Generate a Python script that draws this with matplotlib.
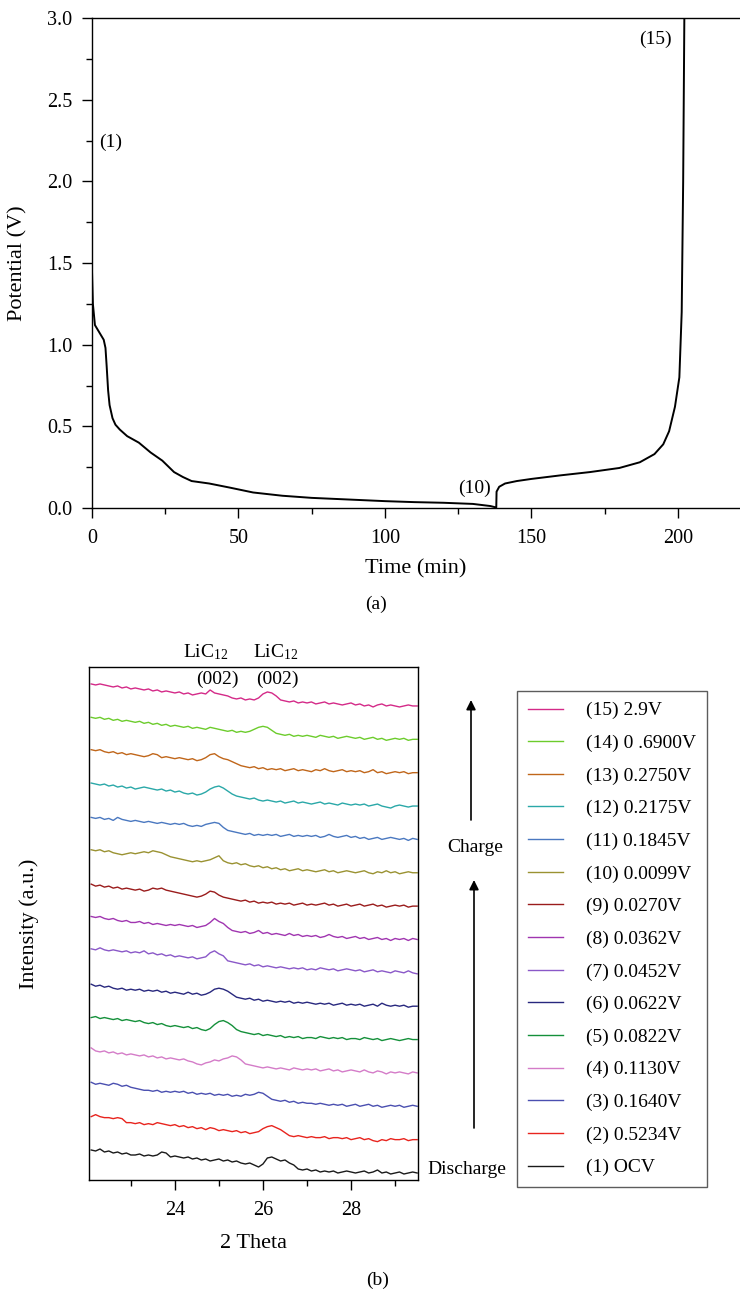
import numpy as np
import matplotlib
matplotlib.use("Agg")
import matplotlib.pyplot as plt
from matplotlib.ticker import MultipleLocator

plt.rcParams['font.family'] = ['Liberation Serif', 'DejaVu Serif']
plt.rcParams['mathtext.fontset'] = 'custom'
plt.rcParams['mathtext.rm'] = 'Liberation Serif'
plt.rcParams['mathtext.it'] = 'Liberation Serif:italic'
FS = 14
FS_TICK = 14.5
FS_LAB = 16

# ---------------- (a) discharge / charge curve ----------------
time_min = [0, 0.3, 1.0, 2.0, 3.0, 4.0, 4.6, 5.0, 5.5, 6.0, 7.0, 8.0, 9.5, 12, 16,
            20, 24, 28, 31, 34, 40, 47, 55, 65, 75, 90, 100, 110, 120, 130, 136,
            138, 138.1, 139, 141, 145, 150, 160, 170, 180, 187, 192, 195, 197,
            199, 200.5, 201.3, 201.8, 202.2]
potential_v = [1.45, 1.25, 1.12, 1.09, 1.06, 1.03, 0.98, 0.87, 0.72, 0.63, 0.55,
               0.51, 0.48, 0.44, 0.40, 0.34, 0.29, 0.22, 0.19, 0.165, 0.15, 0.125,
               0.095, 0.075, 0.062, 0.05, 0.042, 0.036, 0.032, 0.025, 0.012,
               0.003, 0.10, 0.13, 0.15, 0.165, 0.178, 0.20, 0.22, 0.245, 0.28,
               0.33, 0.39, 0.47, 0.62, 0.80, 1.2, 2.0, 3.0]
point_labels = ['(1)', '(10)', '(15)']
point_time = [6.3, 130.4, 192.3]
point_pot = [2.24, 0.12, 2.87]

# ---------------- (b) XRD patterns ----------------
two_theta = np.round(np.arange(22.1, 29.55, 0.1), 2)  # 75 points

xrd_1 = [23,22,24,21,22,20,21,19,20,18, 18,19,17,18,17,18,21,20,16,17,
         16,15,16,14,15,13,14,12,13,14, 12,13,11,12,10,9,10,8,6,9,
         15,16,14,12,13,10,8,4,3,4, 2,3,1,2,1,2,0,1,2,1,
         0,1,2,0,1,3,0,1,-1,0, 1,-1,0,1,0]
xrd_2 = [23,25,23,22,22,21,22,21,17,17, 16,17,15,16,15,17,16,15,14,15,
         13,14,12,13,11,12,10,12,11,9, 10,9,8,9,7,8,6,7,8,11,
         13,14,12,10,7,4,3,4,3,2, 3,2,2,3,1,2,2,1,2,0,
         1,2,0,1,-1,-2,0,-1,1,0, 0,1,-1,0,0]
xrd_3 = [24,22,23,22,21,23,22,20,21,19, 18,17,16,16,15,16,14,15,14,15,
         14,15,13,14,12,13,12,13,11,12, 11,12,10,11,10,12,11,12,14,13,
         10,7,6,5,6,4,5,3,4,3, 3,2,3,2,1,2,1,2,0,1,
         2,0,1,2,0,1,-1,0,1,0, 1,-1,0,1,0]
xrd_4 = [25,22,21,22,20,21,19,20,18,19, 18,17,18,16,17,15,16,14,15,14,
         13,14,12,11,9,8,10,11,13,12, 14,15,17,16,13,9,8,7,6,5,
         6,5,4,5,4,3,5,4,3,4, 3,4,2,3,4,2,3,1,2,3,
         2,1,3,1,0,2,1,-1,1,0, 1,0,-1,1,0]
xrd_5 = [22,23,21,22,21,20,21,19,20,19, 18,19,17,16,17,15,16,14,13,14,
         13,12,13,11,12,10,9,11,15,18, 19,17,14,10,8,7,6,5,6,4,
         5,4,3,4,2,3,2,3,1,2, 2,1,3,2,1,2,1,2,0,1,
         1,0,2,1,0,1,-1,0,1,0, -1,0,1,0,0]
xrd_6 = [22,20,21,19,20,18,17,18,16,17, 16,17,15,16,15,16,14,15,13,14,
         13,12,14,12,13,11,12,14,17,18, 17,15,12,9,8,7,8,6,7,5,
         6,5,4,5,4,5,3,4,3,4, 3,2,3,2,3,1,2,3,1,2,
         1,2,0,1,2,0,3,1,0,1, 0,1,-1,0,0]
xrd_7 = [24,23,25,23,22,23,22,21,22,20, 21,20,22,19,20,18,19,17,18,16,
         17,16,15,16,14,15,16,20,22,19, 17,12,11,10,9,8,9,7,8,6,
         7,6,5,6,5,4,5,4,5,3, 4,3,5,4,3,4,2,3,4,3,
         2,3,1,2,3,1,2,1,0,2, 1,0,2,0,-1]
xrd_8 = [23,22,23,21,20,21,19,18,19,17, 17,18,16,17,15,16,15,14,15,14,
         15,14,13,14,12,13,14,17,21,18, 16,12,9,8,7,8,6,7,9,6,
         7,5,6,5,4,6,4,5,3,4, 3,4,2,3,5,3,2,3,1,2,
         3,1,2,0,1,2,0,1,-1,1, 0,1,-1,1,0]
xrd_9 = [22,20,21,19,20,18,19,17,18,17, 16,17,15,16,18,17,18,16,15,14,
         13,12,11,10,9,10,12,15,14,11, 9,8,7,6,5,6,4,5,3,4,
         3,4,2,3,2,3,1,2,3,1, 2,1,2,3,1,2,0,1,2,0,
         1,2,0,1,2,0,1,-1,0,1, 0,1,-1,0,0]
xrd_10 = [23,22,23,21,22,20,19,18,19,20, 19,20,21,20,22,21,20,18,16,15,
          14,13,12,11,12,11,12,13,15,17, 12,10,9,10,8,9,7,6,7,5,
          6,4,5,3,4,2,3,4,2,3, 2,1,2,3,1,2,0,1,2,1,
          0,1,2,0,-1,1,0,2,0,1, -1,0,1,0,0]
xrd_11 = [22,21,22,20,21,19,22,20,19,18, 19,18,17,18,17,16,17,16,15,16,
          15,16,14,13,14,13,15,16,17,16, 12,9,8,7,6,5,6,4,5,4,
          5,4,5,3,4,5,3,4,3,4, 3,4,2,3,5,3,2,3,4,2,
          3,1,2,0,1,2,0,1,2,1, 0,1,-1,1,0]
xrd_12 = [23,22,21,22,20,21,19,20,18,19, 17,18,19,18,17,16,17,15,16,14,
          15,13,12,13,11,12,14,17,19,20, 18,15,12,10,9,8,7,8,6,5,
          6,5,4,5,3,4,5,3,4,3, 2,3,4,2,3,2,1,3,2,1,
          2,1,2,0,1,2,0,-1,-2,0, 1,0,-1,0,0]
xrd_13 = [23,22,23,21,20,21,19,20,18,19, 18,17,16,17,19,18,15,16,15,14,
          15,14,13,14,12,13,15,18,19,16, 14,13,11,9,7,6,5,6,4,5,
          3,4,3,4,2,3,4,2,3,2, 1,3,2,4,2,1,2,3,1,2,
          1,2,0,1,3,0,1,-1,0,1, 0,1,-1,0,0]
xrd_14 = [22,21,22,20,21,19,20,18,19,18, 17,18,16,17,15,16,14,15,13,14,
          13,12,13,11,12,11,10,12,11,10, 9,8,9,7,8,7,8,10,12,13,
          12,9,6,5,4,5,3,4,3,4, 3,2,4,3,2,3,1,2,3,2,
          1,2,0,1,2,0,1,-1,0,1, 0,1,-1,0,0]
xrd_15 = [22,21,22,21,20,19,20,18,19,17, 18,17,16,17,15,16,14,15,14,13,
          14,12,13,11,12,13,12,16,13,12, 11,10,8,7,8,6,7,6,8,12,
          14,13,10,6,5,4,5,3,4,3, 4,2,3,4,2,3,2,1,2,3,
          1,2,0,1,-1,1,2,0,1,0, -1,0,1,0,0]

xrd_series = [xrd_1, xrd_2, xrd_3, xrd_4, xrd_5, xrd_6, xrd_7, xrd_8,
              xrd_9, xrd_10, xrd_11, xrd_12, xrd_13, xrd_14, xrd_15]
xrd_labels = ['(1) OCV', '(2) 0.5234V', '(3) 0.1640V', '(4) 0.1130V',
              '(5) 0.0822V', '(6) 0.0622V', '(7) 0.0452V', '(8) 0.0362V',
              '(9) 0.0270V', '(10) 0.0099V', '(11) 0.1845V', '(12) 0.2175V',
              '(13) 0.2750V', '(14) 0 .6900V', '(15) 2.9V']
xrd_colors = ['#1a1a1a', '#e8241e', '#4a4fb0', '#d47cc8', '#14903a',
              '#28287e', '#8a58c8', '#a035b0', '#9a1c1c', '#9a9232',
              '#4a78c0', '#2aa8a8', '#c0661a', '#6ccc2c', '#d42a88']
peak_names = ['LiC$_{12}$', 'LiC$_{12}$']
peak_name_x = [24.69, 26.28]
peak_hkl = ['(002)', '(002)']
peak_hkl_x = [24.96, 26.32]

# ---------------- figure ----------------
W, H = 740, 1290
fig = plt.figure(figsize=(W / 100, H / 100), dpi=100)

def frac_box(l, t, r, b):
    return [l / W, 1 - b / H, (r - l) / W, (b - t) / H]

ax1 = fig.add_axes(frac_box(92, 18, 740, 508))
ax1.plot(time_min, potential_v, color='black', lw=1.4)
ax1.set_xlim(0, 221.2)
ax1.set_ylim(0, 3.0)
ax1.xaxis.set_major_locator(MultipleLocator(50))
ax1.xaxis.set_minor_locator(MultipleLocator(25))
ax1.yaxis.set_major_locator(MultipleLocator(0.5))
ax1.yaxis.set_minor_locator(MultipleLocator(0.25))
ax1.yaxis.set_major_formatter(matplotlib.ticker.FormatStrFormatter('%.1f'))
ax1.spines['right'].set_visible(False)
for sp in ax1.spines.values():
    sp.set_linewidth(1.0)
ax1.tick_params(which='major', direction='out', length=7, width=1, labelsize=FS_TICK)
ax1.tick_params(axis='x', which='major', pad=8)
ax1.tick_params(axis='y', which='major', pad=7)
ax1.tick_params(which='minor', direction='out', length=4, width=1)
ax1.set_xlabel('Time (min)', fontsize=FS_LAB, labelpad=8)
ax1.set_ylabel('Potential (V)', fontsize=FS_LAB)
ax1.yaxis.set_label_coords(-0.100, 0.5)
for lab, tx, ty in zip(point_labels, point_time, point_pot):
    ax1.text(tx, ty, lab, fontsize=FS, ha='center', va='center')
fig.text(376 / W, 1 - 604 / H, '(a)', fontsize=FS, ha='center', va='center')

ax2 = fig.add_axes(frac_box(89, 667, 418, 1180))
step = 33.36
lines = []
for i, (ys, col, lab) in enumerate(zip(xrd_series, xrd_colors, xrd_labels)):
    ln, = ax2.plot(two_theta, np.array(ys) + i * step, color=col, lw=1.0, label=lab)
    lines.append(ln)
ax2.set_xlim(22.05, 29.52)
ax2.set_ylim(-7, 506)
ax2.xaxis.set_major_locator(MultipleLocator(2))
ax2.xaxis.set_minor_locator(MultipleLocator(1))
ax2.set_yticks([])
for sp in ax2.spines.values():
    sp.set_linewidth(1.0)
ax2.tick_params(which='major', direction='out', length=7, width=1, labelsize=FS_TICK, pad=8)
ax2.tick_params(which='minor', direction='out', length=4, width=1)
ax2.set_xlabel('2 Theta', fontsize=FS_LAB, labelpad=10)
ax2.set_ylabel('Intensity (a.u.)', fontsize=FS_LAB)
ax2.yaxis.set_label_coords(-0.152, 0.5)

for nm, x in zip(peak_names, peak_name_x):
    ax2.text(x, 1.029, nm, transform=ax2.get_xaxis_transform(), fontsize=FS,
             ha='center', va='center')
for hk, x in zip(peak_hkl, peak_hkl_x):
    ax2.text(x, 0.975, hk, transform=ax2.get_xaxis_transform(), fontsize=FS,
             ha='center', va='center')

leg = ax2.legend(handles=lines[::-1], loc='upper left', fontsize=FS,
                 bbox_to_anchor=(517 / W, 1 - 691 / H),
                 bbox_transform=fig.transFigure,
                 frameon=True, fancybox=False, edgecolor='#333333',
                 handlelength=1.8, handletextpad=1.2, labelspacing=0.77,
                 borderpad=0.55, borderaxespad=0)
leg.get_frame().set_linewidth(1.0)

def farrow(x, y_tail, y_tip):
    fig.add_artist(matplotlib.patches.FancyArrowPatch(
        (x / W, 1 - y_tail / H), (x / W, 1 - y_tip / H),
        transform=fig.transFigure, arrowstyle='-|>', mutation_scale=14,
        color='black', lw=1.2, shrinkA=0, shrinkB=0))

farrow(471, 820, 700)
farrow(474, 1128, 880)
fig.text(475 / W, 1 - 848 / H, 'Charge', fontsize=FS, ha='center', va='center')
fig.text(467 / W, 1 - 1170 / H, 'Discharge', fontsize=FS, ha='center', va='center')
fig.text(378 / W, 1 - 1280 / H, '(b)', fontsize=FS, ha='center', va='center')

fig.savefig('out.png', dpi=100)
